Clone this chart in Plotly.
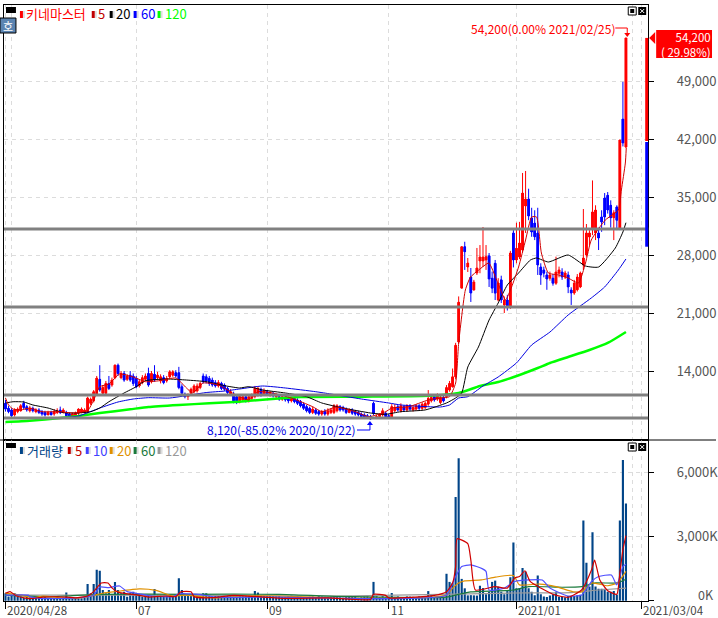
import plotly.graph_objects as go

W, H = 718, 618

opens = [
    10100, 9500, 9300, 8700, 9100, 9200, 10100, 9700, 9200, 9500,
    9100, 9300, 9100, 9000, 8800, 9000, 8800, 9000, 9300, 9000,
    9000, 8800, 8500, 8600, 8900, 9000, 9000, 9100, 10100, 10400,
    11100, 13000, 11300, 11300, 12500, 12300, 13200, 14700, 13200, 13700,
    13000, 13500, 13400, 13100, 12200, 12600, 13000, 13700, 12700, 13600,
    13200, 12800, 13200, 12800, 13300, 13500, 13800, 13800, 12100, 11200,
    10900, 11300, 11500, 11600, 12000, 13400, 13300, 13100, 12900, 12600,
    12200, 12500, 12300, 11900, 11300, 11100, 10900, 10300, 10500, 10900,
    10400, 10700, 10900, 11100, 11800, 11200, 11500, 11100, 11300, 10900,
    10900, 10600, 10800, 10700, 10400, 10700, 10500, 10300, 10000, 9700,
    9500, 9000, 9300, 9100, 8800, 9100, 8800, 9000, 9000, 9200,
    9700, 9600, 9400, 9000, 9300, 9100, 9000, 8800, 8700, 8600,
    8500, 10100, 8300, 8500, 8700, 8900, 8600, 8400, 9200, 9700,
    9200, 9700, 9300, 9800, 9300, 9400, 9800, 9500, 9600, 10000,
    10400, 10900, 10600, 10200, 10800, 10900, 11700, 12100, 13300, 17500,
    24000, 29000, 26550, 25340, 23780, 25830, 27280, 27280, 27400, 27900,
    25200, 27000, 22570, 25000, 21970, 22570, 21840, 30660, 27400, 27760,
    28600, 33910, 34760, 32470, 31850, 30660, 26550, 26200, 25600, 25200,
    25200, 24600, 25800, 25950, 25340, 25600, 23780, 23400, 23800, 24140,
    26790, 28000, 30170, 31260, 30660, 30660, 32600, 34880, 35200, 34000,
    32500, 33800, 31260, 44400, 41030,
]
highs = [
    10500, 9800, 9500, 9500, 9600, 10000, 10400, 9900, 9800, 9700,
    9500, 9500, 9300, 9200, 9200, 9200, 9400, 9500, 9700, 9500,
    9200, 9000, 9000, 9100, 9500, 9600, 9500, 10900, 10800, 11700,
    13400, 14700, 12300, 12800, 13400, 13200, 14800, 14900, 14000, 14000,
    13600, 14000, 13700, 13400, 13000, 13500, 13700, 14400, 14000, 14700,
    13900, 13600, 13500, 13400, 14100, 14100, 14100, 14500, 12400, 11400,
    11300, 12000, 12400, 12500, 12700, 13700, 13600, 13400, 13200, 12900,
    12900, 12700, 12500, 12100, 11800, 11500, 11100, 11200, 11100, 11100,
    11200, 11300, 12200, 12100, 12000, 11900, 11700, 11600, 11500, 11300,
    11100, 11100, 11000, 10900, 10900, 10900, 10700, 10500, 10200, 9900,
    9700, 9700, 9500, 9300, 9300, 9400, 9500, 9500, 10000, 10000,
    9900, 9800, 9600, 9500, 9500, 9300, 9200, 9000, 8900, 8800,
    8700, 10300, 8700, 8800, 9500, 9100, 8800, 10000, 10000, 9900,
    10100, 9900, 10000, 10000, 9800, 10000, 10000, 10200, 10300, 11700,
    11000, 11200, 11300, 11000, 11000, 12300, 12800, 14300, 17400, 23000,
    29000, 29600, 27640, 26430, 25000, 28850, 29200, 31380, 29200, 28240,
    26000, 27400, 25200, 25500, 23000, 23200, 28500, 31000, 31900, 32000,
    37900, 38140, 36000, 33700, 33400, 33700, 27000, 26600, 26000, 26000,
    25700, 27800, 26600, 26400, 26100, 26000, 24100, 25000, 25700, 26000,
    33550, 31740, 31000, 37000, 34000, 31300, 33400, 35480, 35600, 34600,
    33400, 34000, 41900, 48900, 54200,
]
lows = [
    9100, 8900, 8300, 8500, 8900, 9100, 9400, 9100, 9000, 9000,
    8900, 8800, 8600, 8500, 8600, 8600, 8600, 8800, 8800, 8900,
    8400, 8300, 8300, 8400, 8700, 8900, 8900, 8900, 9900, 10200,
    11000, 11500, 11100, 11000, 11700, 12100, 13000, 13400, 13000, 12700,
    12800, 12700, 12200, 11900, 12000, 12400, 12800, 12100, 12500, 12700,
    13000, 12500, 12400, 12600, 13100, 13300, 13200, 11800, 11100, 10700,
    10500, 11100, 11300, 11400, 11800, 12500, 12500, 12200, 12100, 12000,
    12000, 11700, 11600, 11100, 11100, 10100, 10000, 10100, 10300, 10200,
    10200, 10500, 10700, 10900, 10900, 11000, 11000, 10900, 10800, 10700,
    10400, 10400, 10300, 10100, 10200, 10100, 9900, 9600, 9300, 9000,
    8800, 8800, 8700, 8600, 8600, 8600, 8600, 8800, 8800, 9000,
    9100, 9100, 8800, 8900, 8700, 8600, 8500, 8300, 8200, 8200,
    8120, 8700, 8200, 8200, 8500, 8300, 8200, 8300, 9000, 9100,
    9000, 9100, 9100, 9200, 9100, 9200, 9300, 9300, 9400, 9800,
    10200, 10300, 10400, 10000, 10200, 10700, 11500, 12000, 13000, 17300,
    24000, 26200, 25950, 22330, 23700, 25590, 25800, 26550, 26200, 24140,
    23400, 22570, 22400, 22200, 21000, 21300, 21500, 26500, 27000, 27500,
    28300, 30660, 32200, 30200, 29800, 25590, 24400, 25300, 23800, 24900,
    24300, 24400, 25300, 25000, 25100, 23400, 21970, 23200, 23600, 24000,
    26200, 27800, 29200, 30400, 29800, 28600, 30800, 31600, 33000, 31300,
    29800, 31000, 31000, 41100, 40900,
]
closes = [
    9400, 9100, 8600, 9300, 9400, 9800, 9600, 9300, 9500, 9200,
    9300, 9000, 8800, 8700, 9000, 8800, 9100, 9200, 9000, 9300,
    8600, 8500, 8800, 8900, 9400, 9400, 9300, 10750, 10600, 11500,
    13150, 11700, 12000, 12500, 11900, 12900, 14700, 13700, 13700, 12900,
    13400, 12900, 12500, 12100, 12700, 13200, 13400, 12300, 13700, 12900,
    13500, 13300, 12600, 13100, 13900, 13900, 13400, 12000, 11300, 10900,
    11100, 11800, 12200, 12200, 12500, 12700, 12800, 12500, 12300, 12200,
    12600, 11900, 11800, 11400, 11500, 10400, 10400, 10900, 10900, 10400,
    10900, 11000, 11900, 11900, 11100, 11600, 11200, 11400, 11000, 11100,
    10600, 10900, 10500, 10400, 10700, 10300, 10100, 9800, 9500, 9200,
    9000, 9400, 8900, 8800, 9100, 8800, 9200, 9300, 9800, 9800,
    9300, 9300, 9000, 9300, 8900, 8800, 8700, 8500, 8400, 8300,
    8200, 8900, 8500, 8800, 9200, 8500, 8300, 9700, 9600, 9300,
    9800, 9300, 9800, 9400, 9600, 9800, 9500, 10000, 10100, 10700,
    10800, 10500, 11100, 10800, 10400, 12000, 12500, 13300, 17100, 22300,
    29000, 28400, 27030, 23410, 24740, 26430, 27760, 27760, 27800, 25100,
    24000, 23400, 24620, 22570, 22570, 21840, 28240, 27400, 28800, 29450,
    35480, 34760, 32700, 30780, 30200, 26790, 25590, 25800, 25100, 25600,
    24600, 25950, 26200, 25340, 25830, 24140, 23410, 24620, 25340, 25830,
    27640, 30660, 30660, 33200, 33430, 30050, 31980, 32590, 33430, 32500,
    33100, 32200, 41880, 41520, 54200,
]
volumes_k = [
    350, 200, 260, 350, 200, 200, 130, 260, 200, 160,
    200, 170, 130, 160, 130, 110, 130, 140, 130, 140,
    380, 130, 130, 130, 110, 110, 130, 785, 350, 785,
    1445, 1400, 500, 350, 500, 260, 880, 500, 350, 420,
    190, 350, 420, 350, 250, 200, 260, 250, 250, 550,
    280, 250, 200, 280, 260, 210, 220, 1050, 500, 300,
    280, 250, 280, 260, 260, 350, 350, 250, 200, 220,
    220, 200, 200, 230, 250, 220, 200, 220, 230, 240,
    260, 220, 450, 380, 240, 230, 220, 230, 220, 210,
    220, 180, 180, 220, 240, 200, 220, 190, 170, 160,
    190, 200, 170, 220, 200, 180, 170, 180, 210, 170,
    160, 140, 170, 180, 170, 190, 140, 160, 190, 200,
    170, 880, 210, 170, 210, 180, 190, 360, 180, 200,
    170, 170, 200, 190, 180, 170, 200, 180, 210, 450,
    260, 180, 200, 220, 190, 1260, 880, 820, 4850, 6670,
    1020, 580, 250, 260, 250, 240, 700, 590, 300, 420,
    880, 940, 660, 420, 300, 450, 1100, 2720, 580, 590,
    1530, 1370, 580, 420, 250, 1180, 300, 200, 170, 240,
    300, 420, 190, 170, 160, 220, 220, 220, 260, 280,
    3750, 1780, 660, 3200, 660, 560, 560, 560, 420, 420,
    450, 280, 3750, 6580, 4550,
]
bars = list(range(len(closes)))

# Price moving averages, read at selected bars
ma5_bars = [0, 1, 2.5, 5, 8, 12, 18, 22, 27, 29, 31, 34, 37.5, 42, 46, 50.7, 56, 59.5, 61.5, 65, 70,
            74.6, 77, 80, 83, 87.7, 94, 101, 104, 108.7, 115, 119.5, 125, 127, 132.6, 139, 143, 146,
            148, 149, 151.2, 152.9, 155.6, 158.9, 161.5, 164.4, 166.4, 168.7, 171, 173, 174.6, 176.2,
            178.5, 181.8, 185, 188.4, 190.7, 192.6, 197.2, 201.5, 202.5, 203.8, 204.1]
ma5_vals = [10740, 9900, 9400, 9300, 9530, 9090, 9090, 8930, 9210, 10500, 12105, 12430, 13640, 13280,
            12710, 12830, 13155, 11950, 11345, 12550, 12310, 11345, 10900, 10500, 11500, 11345, 10740,
            9690, 9090, 9655, 9090, 8485, 9090, 9530, 9690, 10500, 10740, 10900, 12550, 17380, 23780,
            25340, 26190, 27030, 24980, 22570, 24140, 26550, 29810, 32590, 32590, 28240, 25830, 25590,
            25220, 24620, 27030, 29810, 32220, 33430, 35850, 39100, 40910]
ma20_bars = [0, 2.5, 6, 9, 14, 19, 23.5, 28, 31, 34, 39, 43, 46, 53, 59.5, 66, 72.6, 77, 80, 84.5, 92,
             99, 104, 111, 120, 125, 130, 138, 145, 148, 150, 152, 155.5, 159, 162, 165, 168.7, 172.6,
             174.6, 178.5, 185, 190.7, 195, 200.5, 203, 204]
ma20_vals = [10140, 10290, 10260, 9900, 9530, 8970, 8930, 9090, 9530, 10290, 11345, 12105, 12830, 13035,
             12910, 12710, 12190, 11950, 12105, 11710, 11345, 10900, 10140, 9530, 8930, 8775, 9090, 9300,
             10140, 10740, 11345, 14480, 16900, 20155, 22210, 24380, 25830, 27400, 27640, 27155, 28000,
             26670, 26550, 28845, 30780, 31900]
ma60_bars = [18, 24, 31, 37, 42, 47, 54, 66, 72, 77, 84.5, 92, 102, 107, 117, 126, 130, 143, 146, 149,
             152, 157, 162, 168, 173, 179, 185, 192.6, 197, 201.5, 204]
ma60_vals = [8330, 8570, 9530, 10260, 10620, 10780, 10740, 11400, 11580, 11830, 12190, 11950, 11500, 11220,
             10620, 10140, 9900, 9655, 9900, 10740, 10900, 12190, 13280, 14970, 17140, 18700, 20760, 22810,
             24140, 26190, 27520]
ma120_bars = [0, 8, 18, 24, 31, 41, 47, 57, 67, 77, 80, 91, 97, 118, 139, 149, 156, 162, 169, 175, 179,
              185, 192, 198, 204]
ma120_vals = [7845, 8000, 8330, 8570, 8930, 9380, 9655, 9900, 10100, 10295, 10400, 10700, 10860, 10900,
              11000, 11345, 12190, 12670, 13520, 14360, 14970, 15690, 16530, 17380, 18700]

# Volume moving averages in thousands, read at selected bars
vol5_bars = [0, 1.5, 3.6, 8, 12.4, 20, 23, 27, 29, 31.5, 33.7, 35, 37, 44, 47, 53, 56, 57.7, 61, 62, 68,
             75, 92, 106, 120, 121, 125, 126, 141, 145, 147, 148, 148.5, 152, 153, 154.5, 161, 165,
             167.5, 169, 170.8, 172.5, 176, 180.6, 185, 189.4, 192.7, 193.7, 195.4, 198, 201, 202, 203, 204]
vol5_vals = [350, 425, 220, 95, 170, 170, 130, 220, 425, 830, 830, 600, 400, 250, 170, 220, 190, 420, 420,
             190, 140, 250, 110, 130, 60, 300, 250, 130, 250, 420, 830, 1600, 2900, 2670, 1900, 500, 660,
             590, 1070, 1130, 1400, 900, 590, 270, 160, 500, 1450, 1900, 970, 470, 300, 1300, 2390, 3050]
vol10_bars = [0, 7.5, 8, 12.4, 23, 29, 31, 34, 37.5, 40, 43, 48, 55, 57, 63.5, 69, 90, 120, 145, 148, 150,
              153, 156.7, 158, 159, 164, 167.5, 172, 176.5, 179, 185, 189.5, 192.7, 195, 199.2, 201, 203, 204]
vol10_vals = [260, 260, 190, 100, 130, 260, 640, 610, 690, 425, 350, 220, 190, 320, 300, 170, 170, 100, 260,
              1130, 1600, 1680, 1500, 1370, 500, 590, 900, 970, 970, 590, 220, 270, 900, 1130, 1200, 740,
              1600, 1710]
vol20_bars = [0, 5, 9, 12.4, 20, 26.5, 32, 36, 44, 49.5, 55, 59, 69, 78, 90, 110, 120, 127, 140, 145, 147,
              149, 151, 156.5, 161, 167, 169, 175.6, 181, 186.6, 189.5, 192.7, 198, 201.2, 204]
vol20_vals = [350, 260, 130, 220, 110, 170, 350, 420, 550, 480, 220, 260, 130, 220, 220, 110, 110, 110, 170,
              260, 590, 830, 930, 970, 1100, 1180, 740, 780, 660, 420, 420, 830, 700, 830, 1370]
vol60_bars = [0, 15, 22, 32, 60, 90, 110, 145, 149, 153, 167, 172, 183, 189.5, 194, 201.2, 204]
vol60_vals = [260, 180, 240, 300, 300, 300, 200, 170, 300, 410, 500, 660, 630, 660, 830, 830, 1000]
vol120_bars = [0, 36, 110, 148, 167, 186, 195, 204]
vol120_vals = [260, 260, 220, 310, 360, 380, 500, 590]

# Support / resistance levels and axes
level_lines = [31140, 21720, 11100, 8330]
price_ticks = [14000, 21000, 28000, 35000, 42000, 49000]
volume_ticks = [0, 3000, 6000]
volume_tick_text = ["", "3,000K", "6,000K"]
month_bars = [0, 43, 86, 126, 168, 209]
month_labels = ["2020/04/28", "07", "09", "11", "2021/01", "2021/03/04"]
extra_month_bars = [2, 206]
profile_up = [41760, 54200]
profile_down = [29000, 41640]

KR = "Noto Sans CJK KR"
GRID = "#dcdcdc"
UP, DOWN = "#ff0000", "#0000ff"


def px(x):
    return x / W


def py(y):
    return 1 - y / H


def rect(x0, y0, x1, y1, fill, line=None, width=1):
    return dict(type="rect", xref="paper", yref="paper", x0=px(x0), x1=px(x1), y0=py(y0), y1=py(y1),
                fillcolor=fill, line=dict(color=line or fill, width=width if line else 0), layer="above")


def seg(x0, y0, x1, y1, color, width=1):
    return dict(type="line", xref="paper", yref="paper", x0=px(x0), x1=px(x1), y0=py(y0), y1=py(y1),
                line=dict(color=color, width=width), layer="above")


def tri(points, color):
    path = "M " + " L ".join(f"{px(a)},{py(b)}" for a, b in points) + " Z"
    return dict(type="path", xref="paper", yref="paper", path=path, fillcolor=color,
                line=dict(color=color, width=0), layer="above")


def label(x, y, text, color, size=13, anchor="left", family=KR, height=None):
    return dict(xref="paper", yref="paper", x=px(x), y=py(y), text=text, showarrow=False, xanchor=anchor,
                yanchor="middle", align=anchor, font=dict(family=family, size=size, color=color),
                borderpad=0, borderwidth=0, height=height)


fig = go.Figure()
body_colors = [UP if c >= o else DOWN for o, c in zip(opens, closes)]
fig.add_trace(go.Bar(
    x=bars, y=[abs(c - o) for o, c in zip(opens, closes)], base=[min(o, c) for o, c in zip(opens, closes)],
    xaxis="x", yaxis="y", width=0.85, marker=dict(color=body_colors, line=dict(width=0)),
    showlegend=False, hoverinfo="skip",
))
fig.add_trace(go.Candlestick(
    x=bars, open=opens, high=highs, low=lows, close=closes, xaxis="x", yaxis="y",
    increasing=dict(line=dict(color=UP, width=1), fillcolor=UP),
    decreasing=dict(line=dict(color=DOWN, width=1), fillcolor=DOWN),
    whiskerwidth=0, showlegend=False, hoverinfo="skip",
))
for bx, vals, color, w in [
    (ma120_bars, ma120_vals, "#00ff00", 2.5),
    (ma60_bars, ma60_vals, "#0000e0", 1),
    (ma20_bars, ma20_vals, "#000000", 1),
    (ma5_bars, ma5_vals, "#d00000", 1),
]:
    fig.add_trace(go.Scatter(x=bx, y=vals, mode="lines", xaxis="x", yaxis="y", hoverinfo="skip",
                             line=dict(color=color, width=w, shape="spline", smoothing=0.5), showlegend=False))

fig.add_trace(go.Bar(x=bars, y=volumes_k, xaxis="x2", yaxis="y2", width=0.7, marker=dict(color="#004488", line=dict(width=0)),
                     showlegend=False, hoverinfo="skip"))
for bx, vals, color in [
    (vol120_bars, vol120_vals, "#999999"),
    (vol60_bars, vol60_vals, "#1a7a3c"),
    (vol20_bars, vol20_vals, "#e09000"),
    (vol10_bars, vol10_vals, "#5050ff"),
    (vol5_bars, vol5_vals, "#d00000"),
]:
    fig.add_trace(go.Scatter(x=bx, y=vals, mode="lines", xaxis="x2", yaxis="y2", hoverinfo="skip",
                             line=dict(color=color, width=1.2, shape="spline", smoothing=0.5), showlegend=False))

x_range = [(4 - 5.5) / 3.05, (650 - 5.5) / 3.05]
shapes = []
for level in level_lines:
    shapes.append(dict(type="line", xref="x domain", yref="y", x0=0, x1=1, y0=level, y1=level,
                       line=dict(color="#808080", width=3), layer="above"))
shapes += [
    dict(type="rect", xref="paper", yref="y", x0=px(647), x1=px(650), y0=profile_up[0], y1=profile_up[1],
         fillcolor=UP, line=dict(width=0), layer="above"),
    dict(type="rect", xref="paper", yref="y", x0=px(647), x1=px(650), y0=profile_down[0], y1=profile_down[1],
         fillcolor=DOWN, line=dict(width=0), layer="above"),
    seg(0, 440, 718, 440, "#000000", 1),
    # price flag
    rect(658, 30, 714, 58, UP),
    tri([(651, 38), (657, 32), (657, 44)], UP),
    # high / low leader lines
    seg(617, 28, 629, 28, UP), seg(629, 28, 629, 34, UP),
    tri([(626, 33), (632, 33), (629, 37)], UP),
    seg(358, 430, 371, 430, DOWN), seg(371, 430, 371, 424, DOWN),
    tri([(368, 425), (374, 425), (371, 421)], DOWN),
    # window controls
    rect(630, 7, 638, 15, "#ffffff", "#000000"), rect(632, 9, 636, 13, "#000000"),
    rect(640, 7, 648, 15, "#000000"), seg(642, 9, 646, 13, "#ffffff"), seg(646, 9, 642, 13, "#ffffff"),
    rect(630, 443, 638, 451, "#ffffff", "#000000"), rect(632, 445, 636, 449, "#000000"),
    rect(640, 443, 648, 451, "#000000"), seg(642, 445, 646, 449, "#ffffff"), seg(646, 445, 642, 449, "#ffffff"),
    # legend chips
    rect(6, 7, 16, 13, "#000000"), rect(6, 443, 16, 448, "#000000"),
    rect(0, 18, 16, 33, "#5b84b1", "#000000"),
]
for x, y, c in [(20, 14, UP), (92, 14, "#c00000"), (110, 14, "#000000"), (134, 14, DOWN), (158, 14, "#00ff00"),
                (20, 450, "#004488"), (68, 450, "#c00000"), (86, 450, "#4040ff"), (110, 450, "#e09000"),
                (134, 450, "#1a7a3c"), (158, 450, "#999999")]:
    shapes.append(rect(x + 3, y - 3, x + 5, y + 4, "#dddddd"))
    shapes.append(rect(x, y - 3, x + 3, y + 4, c))

annotations = [
    label(26, 14, "키네마스터", UP, 13),
    label(98, 14, "5", "#c00000", 13),
    label(116, 14, "20", "#000000", 13),
    label(141, 14, "60", DOWN, 13),
    label(165, 14, "120", "#00ff00", 13),
    label(8, 26, "호", "#ffffff", 11, "center"),
    label(27, 450, "거래량", "#004488", 13),
    label(75, 450, "5", "#c00000", 13),
    label(93, 450, "10", "#4040ff", 13),
    label(117, 450, "20", "#e09000", 13),
    label(141, 450, "60", "#1a7a3c", 13),
    label(165, 450, "120", "#999999", 13),
    label(618, 28, "54,200(0.00% 2021/02/25)", UP, 12, "right"),
    label(356.5, 430, "8,120(-85.02% 2020/10/22)", "#0000e0", 12, "right"),
    label(713, 44, "54,200<br>( 29.98%)", "#ffffff", 11.5, "right"),
    label(716, 594, "0K", "#555555", 12.5, "right", height=13),
]
for bar, text in zip(month_bars, month_labels):
    annotations.append(dict(xref="x2", yref="paper", x=bar, y=py(609), text=text, showarrow=False, xanchor="left",
                            yanchor="middle", xshift=0, height=13, font=dict(family=KR, size=11.5, color="#444444")))

axis_common = dict(showline=True, linecolor="#000000", linewidth=1, mirror=True, griddash="4px,4px", gridcolor=GRID,
                   gridwidth=1, showgrid=True, zeroline=False)
fig.update_layout(
    width=W, height=H, margin=dict(l=0, r=0, t=0, b=0), paper_bgcolor="#ffffff", plot_bgcolor="#ffffff",
    showlegend=False, barmode="overlay", shapes=shapes, annotations=annotations, font=dict(family=KR),
    xaxis=dict(axis_common, domain=[px(4), px(650)], range=x_range, anchor="y", tickvals=month_bars, showticklabels=False,
               ticks="", rangeslider=dict(visible=False),
               minor=dict(tickvals=extra_month_bars, showgrid=True, griddash="4px,4px", gridcolor=GRID, ticks="")),
    xaxis2=dict(axis_common, domain=[px(4), px(650)], range=x_range, anchor="y2", tickvals=month_bars, showticklabels=False,
                ticks="outside", ticklen=7, tickcolor="#000000",
                minor=dict(tickvals=extra_month_bars, showgrid=True, griddash="4px,4px", gridcolor=GRID, ticks="")),
    yaxis=dict(axis_common, domain=[py(440), py(5)], range=[5672, 58173], anchor="x", side="right", tickvals=price_ticks,
               tickformat=",", ticks="outside", ticklen=5, tickcolor="#000000", ticklabelstandoff=20,
               tickfont=dict(family=KR, size=13, color="#555555")),
    yaxis2=dict(axis_common, domain=[py(601), py(440)], range=[-14, 7520], anchor="x2", side="right", tickvals=volume_ticks,
                ticktext=volume_tick_text, ticks="outside", ticklen=5, tickcolor="#000000", ticklabelstandoff=20,
                tickfont=dict(family=KR, size=13, color="#555555")),
)

# plotly.js emits a plain page: remove its default body margin and scrollbars so the chart fills the window
page_fix = ("document.documentElement.style.margin='0';document.documentElement.style.overflow='hidden';"
            "document.body.style.margin='0';document.body.style.overflow='hidden';")
fig.write_html("out.html", post_script=page_fix, config=dict(displayModeBar=False))
